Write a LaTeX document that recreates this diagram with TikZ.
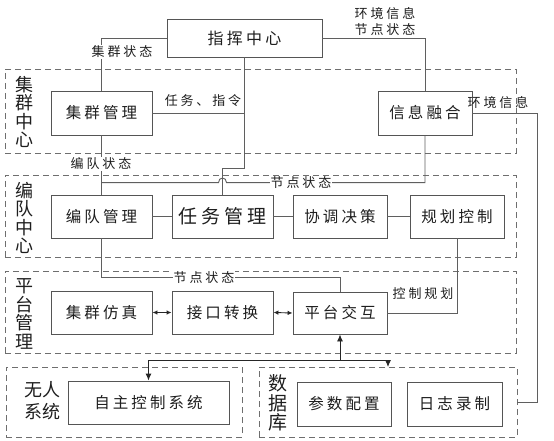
\documentclass[tikz,border=0pt]{standalone}
\usepackage{fontspec}
\setmainfont{Noto Sans CJK SC}
\newfontfamily\boxfont[LetterSpace=20]{Noto Sans CJK SC}
\newfontfamily\lblfont[LetterSpace=22]{Noto Sans CJK SC}
\newfontfamily\grpfont{Noto Sans CJK SC}
\usetikzlibrary{calc,arrows.meta}
\definecolor{boxc}{RGB}{85,85,85}
\definecolor{linec}{RGB}{95,95,95}
\definecolor{dashc}{RGB}{110,110,110}
\definecolor{txtc}{RGB}{30,30,30}
\tikzset{
  bx/.style={draw=boxc, fill=white, line width=0.9pt, inner sep=0pt, text=txtc,
    font=\boxfont\fontsize{15.5}{18}\selectfont},
  bigbx/.style={bx, font=\boxfont\fontsize{19}{22}\selectfont},
  grp/.style={draw=dashc, line width=0.9pt, dash pattern=on 6pt off 4pt, inner sep=0pt},
  grplbl/.style={inner sep=0pt, align=center, text=txtc, font=\grpfont\fontsize{18}{18.5}\selectfont},
  lbl/.style={inner sep=1pt, text=txtc, font=\lblfont\fontsize{13}{16}\selectfont},
  wlbl/.style={lbl, fill=white},
  conn/.style={draw=linec, line width=0.9pt},
  dbl/.style={conn, draw=black!85, {Latex[length=5pt,width=4.5pt]}-{Latex[length=5pt,width=4.5pt]}},
  arr/.style={conn, draw=black!85, -{Latex[length=7pt,width=6pt]}}
}
\begin{document}
\begin{tikzpicture}[x=1pt,y=-1pt]
\useasboundingbox (0,0) rectangle (554,441);
% groups
\node[grp, minimum width=511, minimum height=84] (g1) at (260.5,111) {};
\node[grp, minimum width=511, minimum height=82] (g2) at (260.5,216) {};
\node[grp, minimum width=511, minimum height=82] (g3) at (260.5,312) {};
\node[grp, minimum width=236, minimum height=70] (g4) at (124,402) {};
\node[grp, minimum width=258, minimum height=70] (g5) at (388,402) {};
\node[grplbl] (l1) at (24,112) {集\\群\\中\\心};
\node[grplbl] (l2) at (24,218) {编\\队\\中\\心};
\node[grplbl] (l3) at (24,314) {平\\台\\管\\理};
\node[grplbl, font=\grpfont\fontsize{18}{22}\selectfont] (l4) at (42,401) {无人\\系统};
\node[grplbl, font=\grpfont\fontsize{19}{19.5}\selectfont] (l5) at (278,403) {数\\据\\库};
% boxes
\node[bx, minimum width=155, minimum height=38, font=\boxfont\fontsize{16}{18}\selectfont] (zh) at (244.5,38) {指挥中心};
\node[bx, minimum width=101, minimum height=44] (jqgl) at (101.5,113) {集群管理};
\node[bx, minimum width=94, minimum height=44] (xxrh) at (425,113) {信息融合};
\node[bx, minimum width=101, minimum height=43] (bdgl) at (101.5,216.5) {编队管理};
\node[bigbx, minimum width=101, minimum height=43] (rwgl) at (222.5,216.5) {任务管理};
\node[bx, minimum width=94, minimum height=43] (tjjc) at (340,216.5) {协调决策};
\node[bx, minimum width=94, minimum height=43] (ghkz) at (457,216.5) {规划控制};
\node[bx, minimum width=101, minimum height=43] (jqfz) at (101.5,312.5) {集群仿真};
\node[bx, minimum width=101, minimum height=43] (jkzh) at (222.5,312.5) {接口转换};
\node[bx, minimum width=94, minimum height=42] (ptjh) at (340,313) {平台交互};
\node[bx, minimum width=161, minimum height=43] (zzkz) at (148.5,402.5) {自主控制系统};
\node[bx, minimum width=94, minimum height=44] (cspz) at (344,404) {参数配置};
\node[bx, minimum width=95, minimum height=44] (rzlz) at (454.5,404) {日志录制};
% connectors
\draw[conn] (jqgl.north) |- (zh.west);
\draw[conn] (xxrh.north) |- (zh.east);
\draw[conn] (zh.south) |- ($(rwgl.north)+(0,-26)$) -- (rwgl.north);
\draw[conn] (jqgl.east) -- (jqgl.east -| zh.south);
\draw[conn] (jqgl.south) -- (bdgl.north);
\coordinate (hop) at ($(rwgl.north)+(0,-12)$);
\draw[conn] (xxrh.south) |- ($(hop)+(4,0)$) .. controls +(0,-6) and +(0,-6) .. ($(hop)+(-4,0)$) -- (hop -| bdgl.north);
\coordinate (envR) at (537,402);
\draw[conn] (xxrh.east) -| (envR) -- (envR -| g5.east);
\draw[conn] (bdgl.east) -- (rwgl.west);
\draw[conn] (rwgl.east) -- (tjjc.west);
\draw[conn] (tjjc.east) -- (ghkz.west);
\draw[conn] (bdgl.south) |- ($(ptjh.north)+(0,-14)$) -- (ptjh.north);
\draw[conn] (ghkz.south) |- (ptjh.east);
\draw[dbl] (jqfz.east) -- (jkzh.west);
\draw[dbl] (jkzh.east) -- (ptjh.west);
\coordinate (bj) at ($(ptjh.south)+(0,26)$);
\coordinate (dbin) at (388,367);
\draw[arr] (bj) -- (ptjh.south);
\draw[arr] (bj) -| (zzkz.north);
\draw[arr] (bj) -| (dbin);
% labels
\node[wlbl] (t1) at (122,52) {集群状态};
\node[lbl] (t2) at (203,101) {任务、指令};
\node[lbl, align=center] (t3) at (385,21) {环境信息\\节点状态};
\node[lbl] (t4) at (498,103) {环境信息};
\node[wlbl] (t5) at (101,164) {编队状态};
\node[wlbl] (t6) at (301,183) {节点状态};
\node[wlbl] (t7) at (204,278) {节点状态};
\node[lbl] (t8) at (423,294) {控制规划};
\end{tikzpicture}
\end{document}
